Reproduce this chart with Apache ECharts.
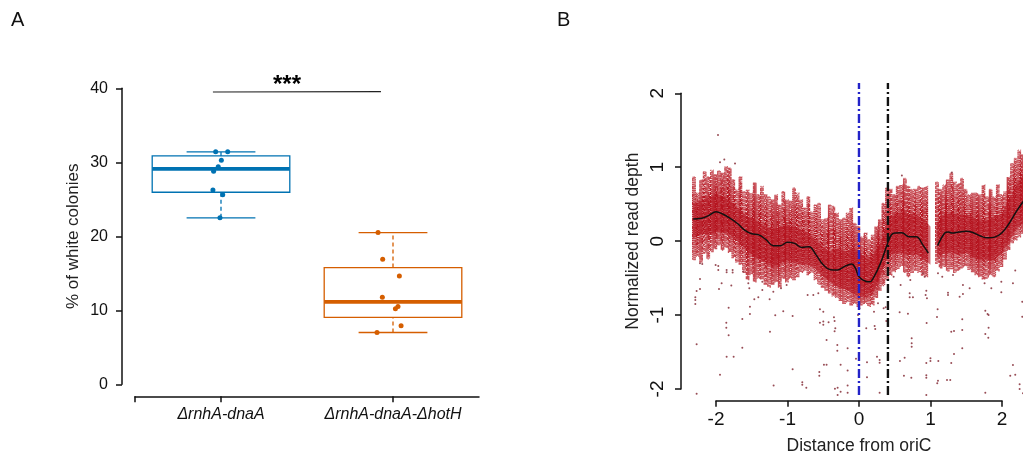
<!DOCTYPE html>
<html><head><meta charset="utf-8">
<style>html,body{margin:0;padding:0;background:#fff}#c{width:1023px;height:457px}</style>
<script src="https://cdn.jsdelivr.net/npm/echarts@6/dist/echarts.min.js"></script>
</head><body><div id="c"></div>
<script>
// ---------- Panel A ----------
const strains = ['ΔrnhA-dnaA', 'ΔrnhA-dnaA-ΔhotH'];
const boxBlue = [1, 22.5, 25.95, 29.1, 30.86, 31.4];
const boxOrange = [2, 7.0, 9.05, 11.15, 15.77, 20.5];
const pointsBlue = [[0.969,31.44],[1.039,31.44],[1.002,30.27],[0.984,29.4],[0.957,28.8],[0.953,26.26],[1.01,25.6],[0.994,22.5]];
const pointsOrange = [[1.913,20.5],[1.94,16.9],[2.037,14.64],[1.938,11.76],[2.029,10.5],[2.014,10.2],[2.047,7.9],[1.907,7.0]];
const sigLine = [[0.953,39.5],[1.93,39.55]];
// ---------- Panel B ----------
const outerX = [-2.3,-2.25,-2.2,-2.15,-2.1,-2.05,-2,-1.95,-1.9,-1.85,-1.8,-1.75,-1.7,-1.65,-1.6,-1.55,-1.5,-1.45,-1.4,-1.35,-1.3,-1.25,-1.2,-1.15,-1.1,-1.05,-1,-0.95,-0.9,-0.85,-0.8,-0.75,-0.7,-0.65,-0.6,-0.55,-0.5,-0.45,-0.4,-0.35,-0.3,-0.25,-0.2,-0.15,-0.1,-0.05,0,0.05,0.1,0.15,0.2,0.25,0.3,0.35,0.4,0.45,0.5,0.55,0.6,0.65,0.7,0.75,0.8,0.85,0.9,0.95,1.1,1.15,1.2,1.25,1.3,1.35,1.4,1.45,1.5,1.55,1.6,1.65,1.7,1.75,1.8,1.85,1.9,1.95,2,2.05,2.1,2.15,2.2,2.25,2.3];
const outerHi = [0.87,0.65,0.83,0.94,0.87,0.96,0.9,0.95,0.92,1.01,0.99,0.83,0.7,0.87,0.67,0.69,0.65,0.79,0.63,0.74,0.63,0.6,0.56,0.63,0.49,0.67,0.56,0.54,0.72,0.65,0.56,0.45,0.6,0.4,0.49,0.51,0.29,0.31,0.49,0.47,0.38,0.29,0.31,0.38,0.45,0.24,0.2,0.06,0.11,0.02,0.08,0.2,0.29,0.51,0.72,0.7,0.63,0.74,0.76,0.85,0.74,0.7,0.7,0.74,0.72,0.74,0.8,0.7,0.76,0.83,0.92,0.8,0.78,0.85,0.7,0.63,0.65,0.65,0.63,0.76,0.6,0.7,0.6,0.76,0.63,0.67,0.87,1.05,1.12,1.23,1.17];
const outerLo = [-0.25,-0.2,-0.28,-0.16,-0.24,-0.14,-0.1,-0.05,-0.12,-0.08,-0.15,-0.22,-0.28,-0.32,-0.42,-0.52,-0.45,-0.55,-0.5,-0.52,-0.58,-0.62,-0.58,-0.55,-0.62,-0.5,-0.55,-0.5,-0.52,-0.48,-0.42,-0.4,-0.45,-0.42,-0.52,-0.58,-0.62,-0.66,-0.7,-0.74,-0.76,-0.8,-0.84,-0.82,-0.86,-0.84,-0.88,-0.86,-0.84,-0.88,-0.86,-0.76,-0.66,-0.6,-0.52,-0.46,-0.41,-0.38,-0.34,-0.42,-0.48,-0.42,-0.39,-0.42,-0.46,-0.48,-0.3,-0.36,-0.34,-0.4,-0.37,-0.42,-0.39,-0.36,-0.34,-0.38,-0.41,-0.45,-0.48,-0.52,-0.5,-0.45,-0.48,-0.4,-0.34,-0.24,-0.12,-0.02,0.02,0.06,0.11];
const coreX = [-2.32,-2.2,-2.1,-2,-1.9,-1.8,-1.7,-1.6,-1.5,-1.4,-1.3,-1.2,-1.1,-1,-0.9,-0.8,-0.7,-0.6,-0.5,-0.4,-0.3,-0.2,-0.1,0,0.1,0.2,0.3,0.4,0.5,0.6,0.7,0.8,0.9,1.0];
const coreHi = [0.5,0.55,0.6,0.62,0.6,0.55,0.46,0.36,0.3,0.26,0.2,0.16,0.2,0.22,0.2,0.15,0.1,0.02,-0.08,-0.14,-0.1,-0.14,-0.1,-0.14,-0.24,-0.18,-0.02,0.26,0.36,0.4,0.36,0.36,0.3,0.2];
const coreLo = [0.05,0.1,0.08,0.12,0.12,0.08,0,-0.1,-0.18,-0.24,-0.3,-0.34,-0.3,-0.26,-0.3,-0.32,-0.32,-0.38,-0.48,-0.56,-0.62,-0.65,-0.7,-0.75,-0.76,-0.7,-0.48,-0.2,-0.16,-0.16,-0.18,-0.18,-0.24,-0.32];
const coreRightX = [1.09,1.2,1.3,1.4,1.5,1.6,1.7,1.8,1.9,2,2.1,2.2,2.32];
const coreRightHi = [0.26,0.36,0.38,0.36,0.36,0.32,0.28,0.3,0.32,0.38,0.56,0.76,0.92];
const coreRightLo = [-0.22,-0.16,-0.16,-0.18,-0.16,-0.22,-0.25,-0.26,-0.25,-0.16,0,0.16,0.26];
const trendLeft = [[-2.32,0.3],[-2.2,0.31],[-2.1,0.35],[-2,0.4],[-1.9,0.365],[-1.8,0.31],[-1.7,0.24],[-1.6,0.15],[-1.5,0.1],[-1.4,0.085],[-1.3,0.02],[-1.2,-0.06],[-1.1,-0.06],[-1,-0.015],[-0.9,-0.03],[-0.8,-0.085],[-0.7,-0.075],[-0.6,-0.185],[-0.5,-0.32],[-0.4,-0.385],[-0.3,-0.39],[-0.2,-0.34],[-0.1,-0.31],[-0.05,-0.365],[0,-0.48],[0.1,-0.545],[0.15,-0.55],[0.2,-0.5],[0.3,-0.3],[0.4,-0.03],[0.45,0.08],[0.5,0.11],[0.6,0.115],[0.7,0.06],[0.8,0.06],[0.9,-0.06],[0.97,-0.16]];
const trendRight = [[1.1,-0.06],[1.2,0.11],[1.25,0.125],[1.3,0.11],[1.4,0.125],[1.5,0.135],[1.6,0.115],[1.7,0.07],[1.8,0.045],[1.9,0.055],[2,0.115],[2.1,0.24],[2.2,0.4],[2.3,0.54]];
const outliers = [[-1.972,1.437],[-1.944,1.067],[-1.884,1.107],[-1.734,1.05],[0.6,0.89],[1.3,0.93],
[-2.224,-0.511],[-2.271,-0.673],[-2.224,-0.646],[-2.289,-0.759],[-2.289,-0.795],[-2.289,-0.849],[-1.921,-0.57],[-1.958,-0.646],[-1.786,-0.601],[-1.823,-0.899],[-1.856,-1.102],[-1.856,-1.17],[-1.823,-1.273],[-2.271,-1.395],[-1.632,-1.052],[-1.632,-1.44],[-1.851,-1.562],[-1.753,-1.562],[-1.944,-1.806],[-2.271,-2.063],[-1.525,-0.886],[-1.525,-0.985],[-1.464,-0.786],[-1.408,-0.759],[-1.25,-0.786],[-1.171,-1.003],[-1.059,-0.949],[-0.928,-1.012],[-1.245,-1.224],[-0.928,-1.733],[-1.194,-1.954],[-0.793,-1.909],[-0.793,-1.941],[-0.737,-1.982],[-0.555,-1.77],[-0.555,-1.819],[-0.49,-1.67],[-0.453,-1.67],[-0.453,-1.337],[-0.546,-0.922],[-0.499,-0.953],[-0.546,-1.102],[-0.499,-1.088],[-0.499,-1.129],[-0.425,-1.097],[-0.35,-1.03],[-0.341,-1.079],[-0.331,-1.179],[-0.341,-1.219],[-0.303,-1.404],[-0.303,-1.481],[-0.159,-1.449],[-0.257,-1.67],[-0.159,-1.751],[-0.336,-1.995],[-0.299,-1.982],[-0.257,-2.036],[-0.299,-2.081],[-0.159,-1.954],[-0.159,-2.049],
[-1.968,-0.389],[-1.851,-0.389],[-1.767,-0.389],[-1.851,-0.421],[-1.767,-0.425],[-2.224,-0.299],[-2.192,-0.308],[-2.005,-0.322],[-1.968,-0.335],[-1.618,-0.412],[-1.548,-0.57],[-1.534,-0.637],[-1.352,-0.547],[-1.352,-0.66],[-1.198,-0.683],[-1.091,-0.637],[-1.012,-0.592],[-0.718,-0.728],[-0.639,-0.728],[-0.569,-0.705],
[0.569,-0.962],[0.685,-0.98],[0.718,-0.525],[0.709,-0.705],[0.755,-0.759],[0.709,-0.759],[0.942,-0.669],[0.932,-0.728],[0.951,-0.773],[0.946,-1.107],[1.1,-0.922],[1.091,-1.025],[1.245,-0.696],[1.245,-0.728],[1.408,-0.75],[1.454,-0.714],[1.445,-1.057],[1.291,-1.224],[1.329,-1.215],[1.445,-1.201],[1.445,-1.449],[1.329,-1.526],[1.291,-1.648],[1.767,-0.94],[1.799,-0.985],[1.813,-0.998],[1.813,-1.17],[1.767,-1.255],[1.809,-1.305],[1.991,-0.692],[2.154,-0.57],[2.186,-0.398],[2.284,-0.818],[2.284,-1.021],[2.154,-1.675],[2.116,-1.819],[2.186,-1.806],[2.247,-1.936],[2.247,-2],[2.294,-2.058],[1.767,-2.049],[1.231,-1.878],[1.277,-1.878],[1.105,-1.887],[1.095,-1.923],[0.942,-2.081],[1,-1.585],[1,-1.621],[0.942,-1.648],[1.11,-1.621],[0.942,-1.815],[0.942,-1.846],[0.732,-1.846],[0.629,-1.819],[0.639,-1.576],[0.573,-1.621],[0.737,-1.314],[0.737,-1.382],[0.737,-1.427],[0.252,-1.562],[0.289,-1.607],[0.289,-1.643],[0.112,-1.639],[0.102,-1.179],[0.219,-1.147],[0.228,-1.188],[0.373,-0.894],[0.345,-0.908],[0.382,-1.079],[0.112,-1.842],[0.289,-2.049],[-0.042,-1.589],[0.009,-0.908],[-0.014,-0.998],[0.21,-0.953],[0.266,-0.84],[0.583,-0.592],[0.485,-0.48],[0.895,-0.434],[0.918,-0.48],[1.105,-0.434],[1.165,-0.48],[1.315,-0.457],[1.454,-0.592],[1.548,-0.637],[1.757,-0.57],[1.851,-0.637],[1.991,-0.547]];
const markBlueX = 0, markBlackX = 0.405;
const markY = [-2.08, 2.14];

const BLUE='#0072b2', ORANGE='#d55e00', RED='#b5141f', FONT='"Liberation Sans",Arial,sans-serif', INK='#111';

function boxItem(color){
  return function(params, api){
    const x=api.value(0), c=(a,b)=>api.coord([a,b]);
    const lo=api.value(1),q1=api.value(2),m=api.value(3),q3=api.value(4),hi=api.value(5);
    const hw=0.4, cw=0.2;
    const ln=(a,b,extra)=>({type:'line',shape:{x1:a[0],y1:a[1],x2:b[0],y2:b[1]},style:Object.assign({stroke:color,lineWidth:1.3,fill:null},extra||{})});
    const tl=c(x-hw,q3), br=c(x+hw,q1);
    return {type:'group',children:[
      ln(c(x,q3),c(x,hi),{lineDash:[4,3]}), ln(c(x,lo),c(x,q1),{lineDash:[4,3]}),
      ln(c(x-cw,hi),c(x+cw,hi)), ln(c(x-cw,lo),c(x+cw,lo)),
      {type:'rect',shape:{x:tl[0],y:tl[1],width:br[0]-tl[0],height:br[1]-tl[1]},style:{stroke:color,lineWidth:1.3,fill:null}},
      ln(c(x-hw,m),c(x+hw,m),{lineWidth:3.8})
    ]};
  };
}
function boxSeries(d,color){
  return {type:'custom',xAxisIndex:0,yAxisIndex:0,data:[d],renderItem:boxItem(color),encode:{x:0,y:[1,2,3,4,5]},silent:true,z:2};
}
function dots(d,color){
  return {type:'scatter',xAxisIndex:0,yAxisIndex:0,data:d,symbolSize:5,itemStyle:{color:color,opacity:1},silent:true,z:3};
}
function band(xs,hi,lo){
  return {type:'custom',xAxisIndex:2,yAxisIndex:2,silent:true,z:2,clip:true,data:[0],
    renderItem:function(p,api){
      const pts=[];
      xs.forEach((x,i)=>pts.push(api.coord([x,hi[i]])));
      for(let i=xs.length-1;i>=0;i--)pts.push(api.coord([xs[i],lo[i]]));
      return {type:'polygon',shape:{points:pts},style:{fill:RED,stroke:null,opacity:0.6}};
    }};
}
const outerData = outerX.map((x,i)=>[x,outerLo[i],outerHi[i]]);
// Each read column is stroked three times with fine dashes, so the band breaks up into speckle.
const columnDash = [[1.5,0.5,0.9,0.9,1.8,0.4,0.8,1.2],[1.0,1.0,1.7,0.6,0.9,0.8,1.4,1.2],[1.9,0.7,0.8,1.1,1.2,0.5,0.9,1.3]];
const outerSeries = {type:'custom',xAxisIndex:2,yAxisIndex:2,silent:true,z:1,data:outerData,encode:{x:0,y:[1,2]},
  renderItem:function(p,api){
    const x0=api.coord([api.value(0),0])[0], y1=api.coord([0,api.value(1)])[1], y2=api.coord([0,api.value(2)])[1];
    const stroke=new echarts.graphic.LinearGradient(0,0,0,1,[
      {offset:0,color:'rgba(181,20,31,0.7)'},{offset:0.3,color:'rgba(181,20,31,1)'},
      {offset:0.7,color:'rgba(181,20,31,1)'},{offset:1,color:'rgba(181,20,31,0.7)'}]);
    return {type:'group',children:columnDash.map((dash,k)=>({
      type:'rect',
      shape:{x:x0-1.8+k*1.2,y:y2,width:0.01,height:y1-y2},
      style:{fill:null,stroke:stroke,lineWidth:1.35,lineDash:dash,lineDashOffset:((p.dataIndex+1)*(k+3)*5)%7}
    }))};
  }};
function trend(d){
  return {type:'line',xAxisIndex:2,yAxisIndex:2,data:d,smooth:0.4,symbol:'none',lineStyle:{color:'#111',width:1.5},silent:true,z:5};
}
function vline(x,color){
  return {type:'line',xAxisIndex:2,yAxisIndex:2,data:markY.map(y=>[x,y]),symbol:'none',lineStyle:{color:color,width:2.4,type:[9,3,2,3]},silent:true,z:6};
}
const tickLab={color:INK,fontFamily:FONT};
const axLine={show:true,onZero:false,lineStyle:{color:INK,width:1.5}};
const axTick={show:true,length:6,lineStyle:{color:INK,width:1.5}};
const option={
  animation:false,backgroundColor:'#fff',
  textStyle:{fontFamily:FONT},
  grid:[
    {left:135,width:344,top:88.3,height:296,outerBoundsMode:'none'},
    {left:716,width:286,top:93.3,height:295.7,outerBoundsMode:'none'},
    {left:687.4,width:336,top:78.6,height:325.2,outerBoundsMode:'none'}
  ],
  xAxis:[
    {gridIndex:0,type:'value',min:0.5,max:2.5,offset:12,position:'bottom',splitLine:{show:false},
      axisLine:axLine,
      axisTick:Object.assign({},axTick,{customValues:[0.5,1,2]}),
      axisLabel:Object.assign({},tickLab,{fontSize:16,fontStyle:'italic',margin:10,customValues:[1,2],formatter:v=>strains[Math.round(v)-1],hideOverlap:false})},
    {gridIndex:1,type:'value',min:-2,max:2,interval:1,offset:11.7,position:'bottom',splitLine:{show:false},
      name:'Distance from oriC',nameLocation:'middle',nameGap:36,nameTextStyle:{color:'#222',fontSize:17.5,fontFamily:FONT},
      axisLine:axLine,axisTick:axTick,
      axisLabel:Object.assign({},tickLab,{fontSize:19,margin:10,showMinLabel:true,showMaxLabel:true,formatter:v=>String(v)})},
    {gridIndex:2,type:'value',min:-2.4,max:2.3,show:false}
  ],
  yAxis:[
    {gridIndex:0,type:'value',min:0,max:40,interval:10,offset:13,position:'left',splitLine:{show:false},
      name:'% of white colonies',nameLocation:'middle',nameGap:40,nameTextStyle:{color:'#222',fontSize:17,fontFamily:FONT},
      axisLine:axLine,axisTick:axTick,
      axisLabel:Object.assign({},tickLab,{fontSize:16,margin:14})},
    {gridIndex:1,type:'value',min:-2,max:2,interval:1,offset:35,position:'left',splitLine:{show:false},
      name:'Normalized read depth',nameLocation:'middle',nameGap:39,nameTextStyle:{color:'#222',fontSize:17.5,fontFamily:FONT},
      axisLine:axLine,axisTick:axTick,
      axisLabel:Object.assign({},tickLab,{fontSize:19,margin:14,rotate:90,formatter:v=>String(v)})},
    {gridIndex:2,type:'value',min:-2.2,max:2.2,show:false}
  ],
  graphic:[
    {type:'text',left:11,top:10,style:{text:'A',fontSize:20,fontFamily:FONT,fill:'#111'}},
    {type:'text',left:557,top:10,style:{text:'B',fontSize:20,fontFamily:FONT,fill:'#111'}},
    {type:'text',left:273,top:73,style:{text:'***',fontSize:24,fontWeight:'bold',fontFamily:FONT,fill:'#000'}}
  ],
  series:[
    boxSeries(boxBlue,BLUE),boxSeries(boxOrange,ORANGE),dots(pointsBlue,BLUE),dots(pointsOrange,ORANGE),
    {type:'line',xAxisIndex:0,yAxisIndex:0,data:sigLine,symbol:'none',lineStyle:{color:'#222',width:1.2},silent:true},
    outerSeries,
    band(coreX,coreHi,coreLo),band(coreRightX,coreRightHi,coreRightLo),
    {type:'scatter',xAxisIndex:2,yAxisIndex:2,data:outliers,symbolSize:2,itemStyle:{color:'#8d3a44',opacity:.9},silent:true,z:3},
    trend(trendLeft),trend(trendRight),
    vline(markBlueX,'#2323c8'),vline(markBlackX,'#111')
  ]
};
echarts.init(document.getElementById('c'),null,{renderer:'canvas'}).setOption(option);
</script></body></html>
